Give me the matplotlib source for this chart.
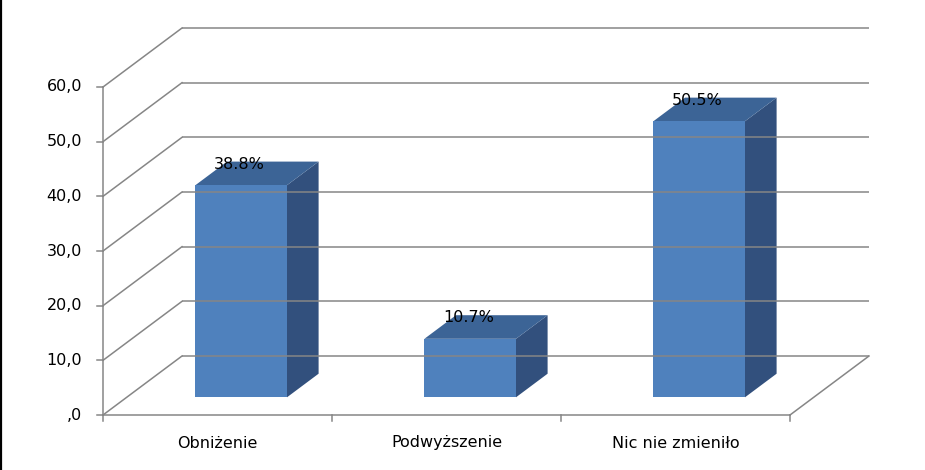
import matplotlib
matplotlib.use("Agg")
import matplotlib.pyplot as plt
from matplotlib.patches import Polygon

categories = ["Obniżenie", "Podwyższenie", "Nic nie zmieniło"]
values = [38.8, 10.7, 50.5]
value_labels = ["38.8%", "10.7%", "50.5%"]
y_ticks = [0, 10, 20, 30, 40, 50, 60]
y_tick_labels = [",0", "10,0", "20,0", "30,0", "40,0", "50,0", "60,0"]

plt.rcParams["font.family"] = ["DejaVu Sans"]

fig = plt.figure(figsize=(9.25, 4.7), dpi=100)
ax = fig.add_axes([0, 0, 1, 1])
ax.set_axis_off()

# pixel layout of the plot: front origin at (103, 415 from top)
px_per_cat = 229.0
px_per_val = 328.0 / 60
x0_px, y0_px = 103, 470 - 415
ax.set_xlim(-x0_px / px_per_cat, (925 - x0_px) / px_per_cat)
ax.set_ylim(-y0_px / px_per_val, (470 - y0_px) / px_per_val)

# oblique depth offset for the full depth of the box
dx = 79 / px_per_cat
dy = 59 / px_per_val

n = len(categories)
grid = "#868686"
lw = 1.1
fs = 11.5


def proj(x, v, d):
    # x in category units, v value, d depth fraction 0..1
    return x + d * dx, v + d * dy


# back wall gridlines and left wall diagonals
for t in y_ticks:
    xb, yb = proj(0, t, 1)
    xe, _ = proj(n, t, 1)
    ax.plot([xb, xe], [yb, yb], color=grid, lw=lw, solid_capstyle="butt")
    ax.plot([0, xb], [t, yb], color=grid, lw=lw)

# floor edges
xr, yr = proj(n, 0, 1)
ax.plot([0, n], [0, 0], color=grid, lw=lw)
ax.plot([n, xr], [0, yr], color=grid, lw=lw)

# vertical axis and ticks
ax.plot([0, 0], [0, y_ticks[-1]], color=grid, lw=lw)
tick_w = 6 / px_per_cat
tick_h = 6 / px_per_val
for t, lab in zip(y_ticks, y_tick_labels):
    ax.plot([-tick_w, 0], [t, t], color=grid, lw=lw)
    ax.text(-21 / px_per_cat, t, lab, ha="right", va="center", fontsize=fs, color="black")

# category ticks and labels
for i in range(n + 1):
    ax.plot([i, i], [0, -tick_h], color=grid, lw=lw)
for i, c in enumerate(categories):
    ax.text(i + 0.5, -28 / px_per_val, c, ha="center", va="center", fontsize=fs, color="black")

# bars
front_c = "#4F81BD"
side_c = "#32507D"
top_c = "#3C6496"
bw = 0.4
d1, d2 = 0.3, 0.7
for i, v in enumerate(values):
    l = i + 0.5 - bw / 2
    r = i + 0.5 + bw / 2
    f = [proj(l, 0, d1), proj(r, 0, d1), proj(r, v, d1), proj(l, v, d1)]
    s = [proj(r, 0, d1), proj(r, 0, d2), proj(r, v, d2), proj(r, v, d1)]
    tp = [proj(l, v, d1), proj(r, v, d1), proj(r, v, d2), proj(l, v, d2)]
    ax.add_patch(Polygon(s, closed=True, facecolor=side_c, edgecolor="none"))
    ax.add_patch(Polygon(tp, closed=True, facecolor=top_c, edgecolor="none"))
    ax.add_patch(Polygon(f, closed=True, facecolor=front_c, edgecolor="none"))
    cx, cy = proj(i + 0.5, v, d1)
    ax.annotate(value_labels[i], (cx, cy), xytext=(-2, 21), textcoords="offset pixels",
                ha="center", va="center", fontsize=fs, color="black")

# black left border
ax.plot([0.001, 0.001], [0, 1], transform=ax.transAxes, color="black", lw=1.6, clip_on=False)

fig.savefig("out.png", dpi=100)
